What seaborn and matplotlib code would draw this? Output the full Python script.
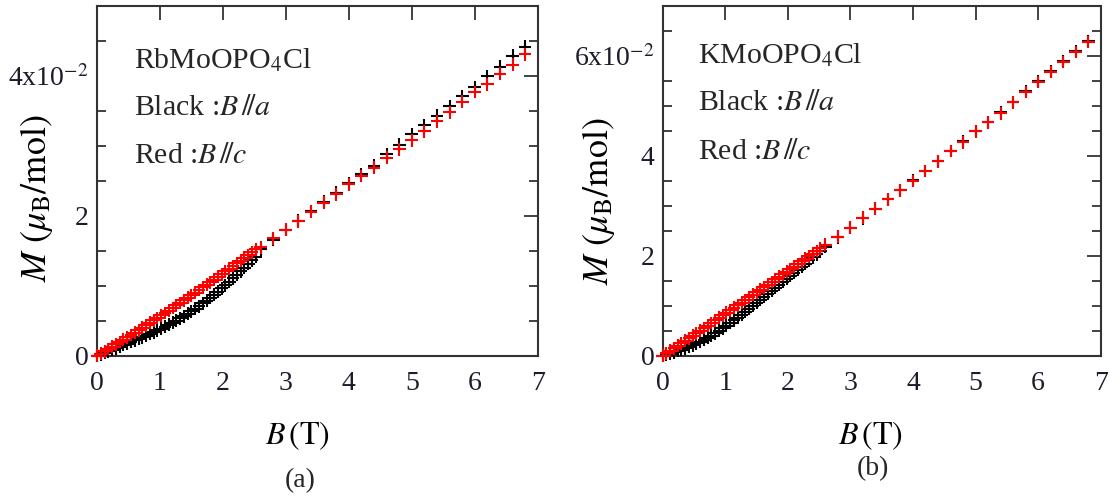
import matplotlib
matplotlib.use("Agg")
import matplotlib.pyplot as plt
import numpy as np
import pandas as pd
import seaborn as sns
from matplotlib.ticker import MultipleLocator, FixedLocator, FixedFormatter

# ---------------- data (M in units of 1e-2 mu_B/mol) ----------------
B_low = [0.00, 0.06, 0.12, 0.18, 0.24, 0.30, 0.36, 0.42, 0.48, 0.54,
         0.60, 0.66, 0.72, 0.78, 0.84, 0.90, 0.96, 1.02, 1.08, 1.14,
         1.20, 1.26, 1.32, 1.38, 1.44, 1.50, 1.56, 1.62, 1.68, 1.74,
         1.80, 1.86, 1.92, 1.98, 2.04, 2.10, 2.16, 2.22, 2.28, 2.34,
         2.40, 2.46, 2.52]
B_high = [2.6, 2.8, 3.0, 3.2, 3.4, 3.6, 3.8, 4.0, 4.2, 4.4, 4.6,
          4.8, 5.0, 5.2, 5.4, 5.6, 5.8, 6.0, 6.2, 6.4, 6.6, 6.8]

# (a) RbMoOPO4Cl
rb_a_low = [0.000, 0.022, 0.044, 0.066, 0.088, 0.110, 0.132, 0.154, 0.176, 0.198,
            0.220, 0.243, 0.266, 0.289, 0.313, 0.338, 0.363, 0.389, 0.416, 0.444,
            0.473, 0.503, 0.535, 0.568, 0.602, 0.637, 0.673, 0.711, 0.750, 0.790,
            0.831, 0.874, 0.918, 0.963, 1.009, 1.057, 1.106, 1.156, 1.207, 1.259,
            1.312, 1.365, 1.419]
rb_c_low = [0.000, 0.032, 0.065, 0.098, 0.131, 0.164, 0.198, 0.231, 0.265, 0.299,
            0.333, 0.367, 0.402, 0.436, 0.471, 0.506, 0.541, 0.577, 0.612, 0.648,
            0.684, 0.720, 0.756, 0.793, 0.829, 0.866, 0.903, 0.940, 0.978, 1.015,
            1.053, 1.091, 1.129, 1.167, 1.206, 1.244, 1.283, 1.322, 1.361, 1.401,
            1.440, 1.480, 1.520]
rb_a_high = [1.52, 1.66, 1.80, 1.93, 2.07, 2.20, 2.33, 2.47, 2.60, 2.72, 2.88,
             3.02, 3.17, 3.30, 3.43, 3.57, 3.71, 3.84, 4.00, 4.13, 4.29, 4.42]
rb_c_high = [1.55, 1.68, 1.80, 1.92, 2.06, 2.19, 2.31, 2.45, 2.57, 2.69, 2.83,
             2.95, 3.08, 3.21, 3.35, 3.48, 3.63, 3.77, 3.88, 4.03, 4.16, 4.31]

# (b) KMoOPO4Cl
k_a_low = [0.000, 0.022, 0.045, 0.070, 0.096, 0.123, 0.152, 0.182, 0.214, 0.248,
           0.284, 0.322, 0.363, 0.407, 0.453, 0.502, 0.552, 0.603, 0.656, 0.711,
           0.767, 0.824, 0.882, 0.940, 0.999, 1.058, 1.117, 1.177, 1.237, 1.298,
           1.358, 1.419, 1.480, 1.541, 1.602, 1.663, 1.724, 1.785, 1.847, 1.908,
           1.969, 2.030, 2.091]
k_c_low = [0.000, 0.050, 0.101, 0.151, 0.202, 0.252, 0.303, 0.354, 0.404, 0.455,
           0.506, 0.557, 0.607, 0.658, 0.709, 0.760, 0.811, 0.862, 0.913, 0.964,
           1.015, 1.066, 1.117, 1.169, 1.220, 1.271, 1.322, 1.374, 1.425, 1.477,
           1.528, 1.580, 1.631, 1.683, 1.734, 1.786, 1.838, 1.889, 1.941, 1.993,
           2.045, 2.097, 2.149]
k_a_high = [2.18, 2.37, 2.56, 2.75, 2.94, 3.13, 3.32, 3.51, 3.70, 3.90, 4.10,
            4.29, 4.49, 4.68, 4.87, 5.08, 5.29, 5.49, 5.69, 5.90, 6.10, 6.30]
k_c_high = [2.22, 2.38, 2.56, 2.76, 2.94, 3.13, 3.31, 3.50, 3.70, 3.89, 4.10,
            4.27, 4.49, 4.67, 4.85, 5.07, 5.28, 5.48, 5.68, 5.88, 6.08, 6.28]

compounds = [r"RbMoOPO$_4$Cl", r"KMoOPO$_4$Cl"]
panel_labels = ["(a)", "(b)"]
y_ticks = [[0, 2, 4], [0, 2, 4, 6]]
y_ticklabels = [["0", "2", r"4x10$^{-2}$"], ["0", "2", "4", r"6x10$^{-2}$"]]
y_max = [5, 7]
x_ticks = [0, 1, 2, 3, 4, 5, 6, 7]


def make_df(a_low, a_high, c_low, c_high):
    dfa = pd.DataFrame({"B": B_low + B_high, "M": a_low + a_high, "dir": "a"})
    dfc = pd.DataFrame({"B": B_low + B_high, "M": c_low + c_high, "dir": "c"})
    return pd.concat([dfa, dfc], ignore_index=True)


dfs = [make_df(rb_a_low, rb_a_high, rb_c_low, rb_c_high),
       make_df(k_a_low, k_a_high, k_c_low, k_c_high)]

# ---------------- style ----------------
sns.set_style("white")
plt.rcParams["font.family"] = ["Liberation Serif", "DejaVu Serif"]
plt.rcParams["mathtext.fontset"] = "stix"

fig = plt.figure(figsize=(11.1, 4.97), dpi=100)
axes_rects = [[0.0874, 0.284, 0.397, 0.704], [0.597, 0.284, 0.3946, 0.704]]
spine_col = "#333333"
label_col = "#1c1c2c"

text_pos = [(0.084, [0.823, 0.689, 0.551]), (0.080, [0.837, 0.703, 0.563])]
ylabel_xy = [(-0.095, 0.451), (-0.105, 0.443)]
xlabel_x = [0.455, 0.475]
panel_pos = [(0.27, 0.032), (0.786, 0.058)]

for i in range(2):
    ax = fig.add_axes(axes_rects[i])
    sns.scatterplot(data=dfs[i], x="B", y="M", hue="dir",
                    palette={"a": "black", "c": "#ff0000"},
                    marker="+", s=85, linewidth=1.5, legend=False, ax=ax,
                    clip_on=False, zorder=3)
    ax.set_xlim(0, 7)
    ax.set_ylim(0, y_max[i])
    ax.xaxis.set_major_locator(FixedLocator(x_ticks))
    ax.set_xticklabels([str(t) for t in x_ticks])
    ax.yaxis.set_major_locator(FixedLocator(y_ticks[i]))
    ax.yaxis.set_major_formatter(FixedFormatter(y_ticklabels[i]))
    ax.yaxis.set_minor_locator(MultipleLocator(0.5))
    for sp in ax.spines.values():
        sp.set_visible(True)
        sp.set_color(spine_col)
        sp.set_linewidth(1.5)
    ax.tick_params(axis="both", which="major", direction="in", length=10,
                   width=1.3, color=spine_col, top=True, right=True,
                   labelsize=20, labelcolor=label_col)
    ax.tick_params(axis="y", which="minor", direction="in", length=6.5,
                   width=1.3, color=spine_col, left=True, right=True)
    ax.tick_params(axis="x", which="major", pad=11)
    ax.tick_params(axis="y", which="major", pad=6)

    ax.set_xlabel(r"$B\,(\mathrm{T})$", fontsize=23, color="black")
    ax.xaxis.set_label_coords(xlabel_x[i], -0.183)
    ax.set_ylabel(r"$M\ (\mu_{\mathrm{B}}/\mathrm{mol})$", fontsize=26, color="black")
    ax.yaxis.set_label_coords(*ylabel_xy[i])

    tx, tys = text_pos[i]
    ax.text(tx, tys[0], compounds[i], transform=ax.transAxes, fontsize=21.5,
            va="baseline", ha="left")
    ax.text(tx, tys[1], r"Black :$B\,/\!/a$", transform=ax.transAxes,
            fontsize=21.5, va="baseline", ha="left")
    ax.text(tx, tys[2], r"Red :$B\,/\!/c$", transform=ax.transAxes,
            fontsize=21.5, va="baseline", ha="left")

    fig.text(panel_pos[i][0], panel_pos[i][1], panel_labels[i], fontsize=20,
             ha="center", va="center")

fig.savefig("out.png", dpi=100)
